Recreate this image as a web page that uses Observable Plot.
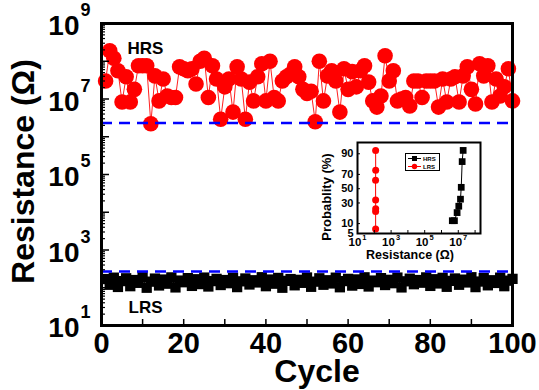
<!DOCTYPE html>
<html><head><meta charset="utf-8">
<script src="https://cdn.jsdelivr.net/npm/d3@7"></script>
<script src="https://cdn.jsdelivr.net/npm/@observablehq/plot@0.6"></script>
<style>
body{margin:0;background:#fff;}
#wrap{position:relative;width:539px;height:390px;font-family:"Liberation Sans",Arial,sans-serif;font-weight:bold;}
#inset{position:absolute;left:310px;top:130px;}
#legend{position:absolute;left:405px;top:153px;width:35px;height:18px;border:1px solid #000;background:#fff;box-sizing:border-box;}
</style></head><body><div id="wrap"></div>
<script>
// ---- main chart data (Resistance in ohm, one value per cycle 1..100) ----
const hrsValues = [3.0e7,1.9e8,1.2e8,5.6e7,8.3e6,3.9e7,8.3e6,1.8e7,7.6e7,7.6e7,
  7.6e7,2.2e6,4.1e7,8.9e6,3.4e7,1.2e7,1.1e7,1.1e7,7.1e7,6.3e7,
  5.6e7,6.3e7,2.5e7,1.0e8,1.2e8,1.1e7,7.6e7,3.4e7,2.9e6,2.1e7,
  3.4e7,4.5e6,7.1e7,3.4e7,2.9e6,2.8e7,8.9e6,3.9e7,8.6e7,8.9e6,
  1.0e8,1.1e7,8.9e6,3.0e7,3.9e7,4.6e7,7.1e7,3.9e7,1.8e7,1.4e7,
  1.6e7,2.5e6,1.0e8,8.9e6,4.1e7,5.6e7,3.0e7,4.5e6,6.3e7,1.8e7,
  5.3e7,2.1e7,5.6e7,7.6e7,2.8e7,8.9e6,6.1e6,1.2e7,1.4e8,3.0e7,
  5.6e7,8.9e6,1.0e7,1.1e7,6.5e6,3.0e7,3.0e7,1.1e7,3.0e7,3.0e7,
  3.0e7,6.1e6,3.4e7,8.3e6,3.4e7,3.9e7,8.3e6,4.1e7,7.1e7,1.8e7,
  7.4e6,8.6e7,4.1e7,7.6e7,8.3e6,3.4e7,1.2e7,2.1e7,6.3e7,8.9e6];
const lrsValues = [170,120,185,105,150,178,110,160,135,190,100,145,175,115,165,128,188,102,155,140,
  180,112,168,125,186,108,150,172,118,160,132,184,104,148,176,122,158,138,190,110,
  165,128,182,100,152,170,116,162,135,187,106,145,178,120,158,130,185,103,150,172,
  114,166,126,189,108,155,140,180,118,162,132,186,102,148,174,124,160,136,188,112,
  168,130,183,106,152,176,120,164,138,190,104,146,180,116,158,134,185,110,154,172];
const thresholds = [2.3e6, 2.7e2];
const xTickLabels = [0,20,40,60,80,100];
const xTickMarks = [0,10,20,30,40,50,60,70,80,90,100];
const yTickLabels = [1e1,1e3,1e5,1e7,1e9];
// ---- inset data (cumulative probability) ----
const insetHrsR = [4.4e6,5.9e6,8.5e6,1.07e7,1.35e7,1.5e7,1.7e7,1.95e7];
const insetHrsP = [12,12,19,26,35,52,84,92];
const insetLrsR = [120,120,121,120,119,121,120];
const insetLrsP = [7,20,23,34,62,75,92];
const insetXTicks = [1e1,1e3,1e5,1e7];
const insetYTicks = [5,10,30,50,70,90];

function probit(p){
  const a=[-3.969683028665376e+01,2.209460984245205e+02,-2.759285104469687e+02,1.383577518672690e+02,-3.066479806614716e+01,2.506628277459239e+00];
  const b=[-5.447609879822406e+01,1.615858368580409e+02,-1.556989798598866e+02,6.680131188771972e+01,-1.328068155288572e+01];
  const c=[-7.784894002430293e-03,-3.223964580411365e-01,-2.400758277161838e+00,-2.549732539343734e+00,4.374664141464968e+00,2.938163982698783e+00];
  const d=[7.784695709041462e-03,3.224671290700398e-01,2.445134137142996e+00,3.754408661907416e+00];
  const pl=0.02425, ph=1-pl; let q,r;
  if(p<pl){q=Math.sqrt(-2*Math.log(p));return (((((c[0]*q+c[1])*q+c[2])*q+c[3])*q+c[4])*q+c[5])/((((d[0]*q+d[1])*q+d[2])*q+d[3])*q+1);}
  if(p<=ph){q=p-0.5;r=q*q;return (((((a[0]*r+a[1])*r+a[2])*r+a[3])*r+a[4])*r+a[5])*q/(((((b[0]*r+b[1])*r+b[2])*r+b[3])*r+b[4])*r+1);}
  q=Math.sqrt(-2*Math.log(1-p));return -(((((c[0]*q+c[1])*q+c[2])*q+c[3])*q+c[4])*q+c[5])/((((d[0]*q+d[1])*q+d[2])*q+d[3])*q+1);
}
function superscript(svg, size, raise){
  svg.querySelectorAll("text").forEach(t=>{
    const m = /^10\^(\d+)$/.exec(t.textContent);
    if(!m) return;
    t.textContent = "";
    const a = document.createElementNS("http://www.w3.org/2000/svg","tspan"); a.textContent = "10";
    const b = document.createElementNS("http://www.w3.org/2000/svg","tspan"); b.textContent = m[1];
    b.setAttribute("font-size", size); b.setAttribute("dy", -raise); b.setAttribute("dx", 1);
    t.append(a,b);
  });
}
const font = '"Liberation Sans", Arial, sans-serif';
const hrs = hrsValues.map((v,i)=>({cycle:i+1, r:v}));
const lrs = lrsValues.map((v,i)=>({cycle:i+1, r:v}));
const decades = [], minors = [];
for (let e=1;e<=9;e++){ decades.push(10**e); if(e<9) for(let m=2;m<10;m++) minors.push(m*10**e); }
const fmtExp = d => "10^" + Math.round(Math.log10(d));

const main = Plot.plot({
  width:539, height:390, marginLeft:101, marginRight:27, marginTop:23, marginBottom:65,
  style:{fontFamily:font, fontWeight:"bold", color:"black", background:"transparent"},
  x:{domain:[0,100]},
  y:{type:"log", domain:[10,1e9]},
  marks:[
    Plot.line(lrs,{x:"cycle",y:"r",stroke:"black",strokeWidth:1}),
    Plot.dot(lrs,{x:"cycle",y:"r",symbol:"square",r:5.8,fill:"black"}),
    Plot.line(hrs,{x:"cycle",y:"r",stroke:"#ff2020",strokeWidth:1}),
    Plot.dot(hrs,{x:"cycle",y:"r",r:7.8,fill:"#ff0000"}),
    Plot.ruleY(thresholds,{stroke:"#0000ff",strokeWidth:2.5,strokeDasharray:"11,7"}),
    Plot.axisX(xTickLabels,{tickSize:0,tickPadding:7,fontSize:29,label:null}),
    Plot.axisX(xTickMarks,{tickSize:-6,fill:"none",strokeWidth:1.5,label:null}),
    Plot.axisY(yTickLabels,{tickSize:0,tickPadding:11,fontSize:28,dy:3,tickFormat:fmtExp,label:null}),
    Plot.axisY(decades,{tickSize:-8,fill:"none",strokeWidth:1.5,label:null}),
    Plot.axisY(minors,{tickSize:-4,fill:"none",strokeWidth:1.2,label:null}),
    Plot.text(["Cycle"],{frameAnchor:"bottom",dx:10,dy:56,lineAnchor:"bottom",textAnchor:"middle",fontSize:32,fontWeight:"bold"}),
    Plot.text(["Resistance (Ω)"],{frameAnchor:"left",dx:-68,dy:-3,rotate:-90,lineAnchor:"bottom",textAnchor:"middle",fontSize:32,fontWeight:"bold"}),
    Plot.text(["HRS"],{frameAnchor:"top-left",dx:44,dy:25,lineAnchor:"middle",textAnchor:"middle",fontSize:17,fontWeight:"bold"}),
    Plot.text(["LRS"],{frameAnchor:"bottom-left",dx:44,dy:-18,lineAnchor:"middle",textAnchor:"middle",fontSize:17,fontWeight:"bold"}),
    Plot.frame({stroke:"black",strokeWidth:3})
  ]
});
superscript(main, 18, 19);

const insetHrs = insetHrsR.map((r,i)=>({r, z:probit(insetHrsP[i]/100)}));
const insetLrs = insetLrsR.map((r,i)=>({r, z:probit(insetLrsP[i]/100)}));
const insetDecades = [1e1,1e2,1e3,1e4,1e5,1e6,1e7,1e8];
const inset = Plot.plot({
  width:190, height:140, marginLeft:47, marginRight:20, marginTop:12, marginBottom:37,
  style:{fontFamily:font, fontWeight:"bold", color:"black", background:"transparent"},
  x:{type:"log", domain:[10,2.1e8]},
  y:{domain:[probit(0.05), probit(0.955)]},
  marks:[
    Plot.line(insetLrs,{x:"r",y:"z",stroke:"#ff0000",strokeWidth:1}),
    Plot.dot(insetLrs,{x:"r",y:"z",r:3.5,fill:"#ff0000"}),
    Plot.line(insetHrs,{x:"r",y:"z",stroke:"black",strokeWidth:1}),
    Plot.dot(insetHrs,{x:"r",y:"z",symbol:"square",r:3.8,fill:"black"}),
    Plot.axisX(insetXTicks,{tickSize:0,tickPadding:4,fontSize:11.5,tickFormat:fmtExp,label:null}),
    Plot.axisX(insetDecades,{tickSize:-3,fill:"none",label:null}),
    Plot.axisY(insetYTicks.map(p=>probit(p/100)),{tickSize:0,tickPadding:4,fontSize:11,
      tickFormat:d=>insetYTicks.find(p=>Math.abs(probit(p/100)-d)<1e-9),label:null}),
    Plot.axisY(insetYTicks.map(p=>probit(p/100)),{tickSize:-3,fill:"none",label:null}),
    Plot.text(["Resistance (Ω)"],{frameAnchor:"bottom",dx:-9,dy:25,lineAnchor:"bottom",textAnchor:"middle",fontSize:12.5,fontWeight:"bold"}),
    Plot.text(["Probablity (%)"],{frameAnchor:"left",dx:-27,dy:9,rotate:-90,lineAnchor:"bottom",textAnchor:"middle",fontSize:13,fontWeight:"bold"}),
    Plot.frame({stroke:"black",strokeWidth:2})
  ]
});
superscript(inset, 7.5, 6);
inset.id = "inset";

const wrap = document.getElementById("wrap");
wrap.append(main, inset);
const legend = document.createElement("div");
legend.id = "legend";
legend.innerHTML = `<svg width="33" height="16" style="display:block">
  <line x1="2" x2="15" y1="4.5" y2="4.5" stroke="black" stroke-width="1"/>
  <rect x="6" y="2" width="5" height="5" fill="black"/>
  <text x="17" y="6.8" font-size="6" font-weight="bold" font-family='Liberation Sans, Arial'>HRS</text>
  <line x1="2" x2="15" y1="12.5" y2="12.5" stroke="#ff0000" stroke-width="1"/>
  <circle cx="8.5" cy="12.5" r="2.7" fill="#ff0000"/>
  <text x="17" y="14.8" font-size="6" font-weight="bold" font-family='Liberation Sans, Arial'>LRS</text>
</svg>`;
wrap.append(legend);
</script>
</body></html>
